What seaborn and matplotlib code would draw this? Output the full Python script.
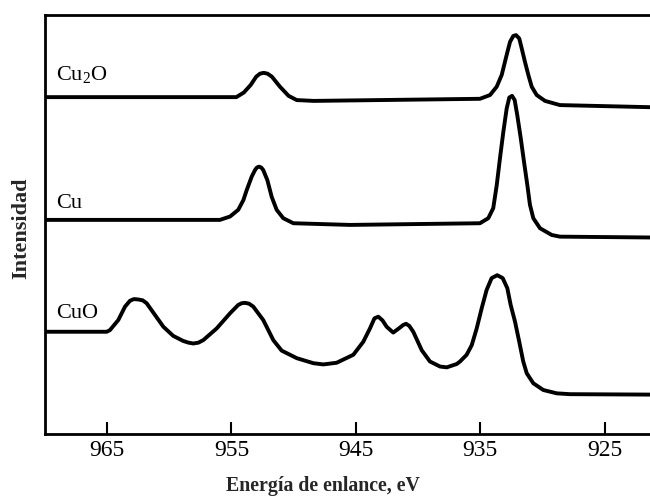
import matplotlib
matplotlib.use("Agg")
import matplotlib.pyplot as plt
import seaborn as sns

# ---- data (binding energy in eV, intensity in arbitrary units) ----
e_cu2o = [970.0, 954.6, 954.0, 953.45, 953.0, 952.7, 952.4, 952.1, 951.75, 951.1,
          950.4, 949.75, 948.4, 935.02, 934.21, 933.67, 933.27, 932.87, 932.60, 932.34,
          932.12, 931.86, 931.66, 931.40, 931.13, 930.86, 930.46, 929.79, 928.59, 921.35]
i_cu2o = [80.4, 80.4, 81.5, 83.3, 85.3, 86.0, 86.2, 86.0, 85.3, 82.9,
          80.7, 79.7, 79.5, 80.0, 80.9, 82.9, 85.7, 90.5, 93.6, 95.0,
          95.2, 94.4, 92.0, 88.8, 85.7, 82.9, 80.9, 79.5, 78.5, 78.0]

e_cu = [970.0, 955.92, 955.11, 954.45, 954.04, 953.77, 953.37, 953.10, 952.95, 952.78,
        952.6, 952.44, 952.11, 951.76, 951.36, 950.83, 950.02, 945.47, 935.02, 934.35,
        933.95, 933.67, 933.41, 933.14, 932.87, 932.66, 932.44, 932.23, 932.02, 931.74,
        931.48, 931.21, 931.00, 930.73, 930.19, 929.25, 928.59, 921.35]
i_cu = [51.1, 51.1, 51.9, 53.5, 55.8, 58.2, 61.4, 63.0, 63.6, 63.8,
        63.6, 63.0, 60.6, 56.6, 53.5, 51.5, 50.3, 49.9, 50.3, 51.5,
        53.9, 59.4, 65.8, 72.1, 77.7, 80.3, 80.7, 79.7, 76.1, 70.6,
        65.0, 59.4, 54.7, 51.5, 49.1, 47.5, 47.1, 46.9]

e_cuo = [970.0, 965.02, 964.76, 964.09, 963.55, 963.15, 962.83, 962.48, 962.13, 961.81,
         961.14, 960.47, 959.67, 958.87, 958.45, 958.06, 957.65, 957.26, 956.18, 955.11,
         954.45, 954.18, 953.91, 953.58, 953.24, 952.44, 951.63, 950.96, 949.75, 948.42,
         947.61, 946.54, 945.20, 944.40, 943.86, 943.50, 943.19, 942.85, 942.52, 941.99,
         941.45, 941.20, 940.96, 940.70, 940.38, 939.70, 939.04, 938.23, 937.69, 936.89,
         936.62, 936.09, 935.68, 935.28, 934.88, 934.48, 934.08, 933.63, 933.19, 932.82,
         932.55, 932.20, 931.86, 931.54, 931.26, 930.73, 929.93, 928.85, 927.78, 921.35]
i_cuo = [24.4, 24.4, 24.8, 27.2, 30.4, 31.8, 32.2, 32.1, 31.9, 31.2,
         28.4, 25.6, 23.4, 22.2, 21.8, 21.6, 21.8, 22.4, 25.2, 28.8,
         30.8, 31.2, 31.3, 31.1, 30.4, 27.2, 22.4, 19.9, 18.1, 16.9,
         16.6, 17.0, 18.9, 22.0, 25.2, 27.6, 28.0, 27.1, 25.6, 24.2,
         25.4, 26.0, 26.3, 25.8, 24.4, 20.0, 17.3, 16.1, 15.9, 16.7,
         17.3, 18.9, 21.2, 25.2, 30.0, 34.4, 37.2, 37.9, 37.2, 34.8,
         30.8, 26.8, 22.0, 17.3, 14.5, 12.1, 10.5, 9.7, 9.5, 9.4]

series_names = ["Cu$_2$O", "Cu", "CuO"]
label_y = [84.5, 53.9, 27.7]
x_ticks = [965, 955, 945, 935, 925]
x_tick_labels = ["965", "955", "945", "935", "925"]
x_title = "Energía de enlance, eV"
y_title = "Intensidad"

# ---- style ----
sns.set_style("ticks")
plt.rcParams['font.family'] = ['Liberation Serif', 'DejaVu Serif']
plt.rcParams['mathtext.fontset'] = 'custom'
plt.rcParams['mathtext.rm'] = 'Liberation Serif'
plt.rcParams['mathtext.it'] = 'Liberation Serif:italic'

fig = plt.figure(figsize=(6.5, 4.97), dpi=100)
ax = fig.add_axes([0.0689, 0.1268, 0.9311, 0.843])

for e, i in [(e_cu2o, i_cu2o), (e_cu, i_cu), (e_cuo, i_cuo)]:
    sns.lineplot(x=e, y=i, ax=ax, color="black", linewidth=2.8, sort=False,
                 estimator=None, solid_joinstyle="round", solid_capstyle="round")

for name, y in zip(series_names, label_y):
    ax.text(969.1, y, name, fontsize=16, ha="left", va="baseline", color="black")

ax.set_xlim(970, 921.35)
ax.set_ylim(0, 100)
ax.set_xticks(x_ticks)
ax.set_xticklabels(x_tick_labels)
ax.set_yticks([])
ax.tick_params(axis="x", direction="in", length=8.6, width=1.5, labelsize=17, pad=4.5,
               colors="black")
ax.spines["right"].set_visible(False)
for s in ["left", "top", "bottom"]:
    ax.spines[s].set_linewidth(2.0)
    ax.spines[s].set_color("black")
ax.set_xlabel("")
ax.set_ylabel("")

fig.text(322.5 / 650, 5.5 / 497, x_title, fontsize=14.3, fontweight="bold",
         ha="center", va="baseline")
fig.text(21 / 650, (497 - 228.5) / 497, y_title, fontsize=16, fontweight="bold",
         rotation=90, ha="center", va="center")

fig.savefig("out.png", dpi=100)
